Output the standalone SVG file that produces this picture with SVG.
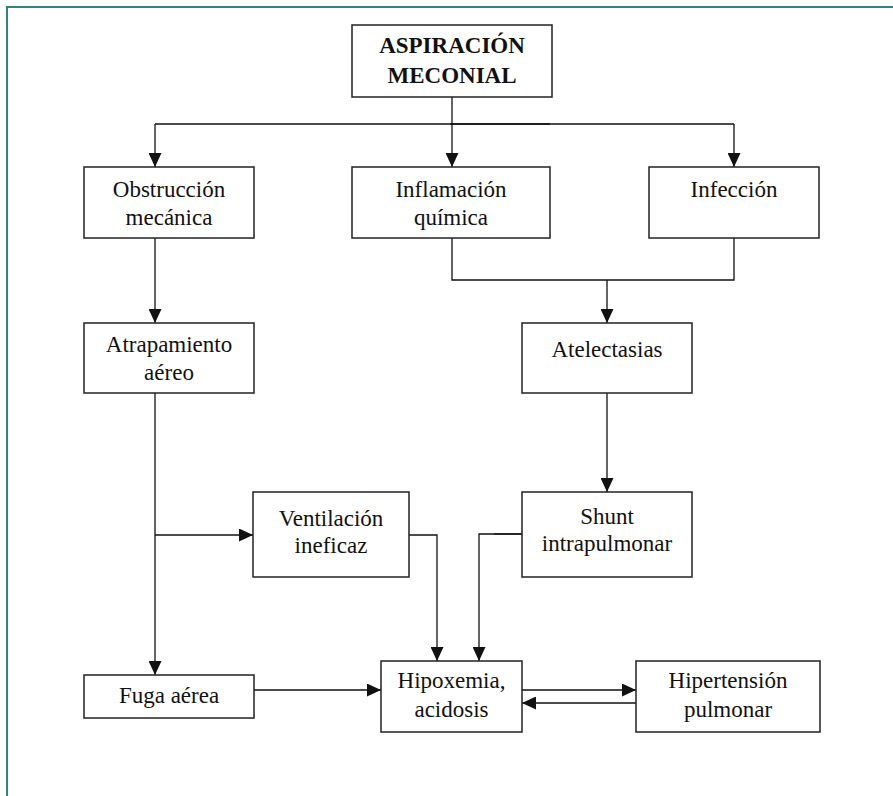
<svg xmlns="http://www.w3.org/2000/svg" width="893" height="796" viewBox="0 0 893 796">
<style>
.box{fill:#fff;stroke:#222;stroke-width:1.5}
.t{font-family:"Liberation Serif","Times New Roman",serif;font-size:23px;fill:#111;text-anchor:middle}
.b{font-weight:bold}
.c{fill:none;stroke:#111;stroke-width:1.3}
</style>
<defs>
<marker id="ah" markerUnits="userSpaceOnUse" markerWidth="14" markerHeight="13" refX="14" refY="6.5" orient="auto">
<path d="M0,0 L14,6.5 L0,13 z" fill="#111"/>
</marker>
</defs>
<rect width="893" height="796" fill="#fff"/>
<g id="frame" fill="none" stroke="#2a8585" stroke-width="2">
<path d="M7,796 V7 H893"/>
</g>
<g id="connectors">
<path class="c" d="M452,97 V124"/>
<path class="c" d="M155,124 H734"/>
<path class="c" d="M450,124 H550" stroke-width="2.2"/>
<path class="c" d="M155,124 V167" marker-end="url(#ah)"/>
<path class="c" d="M452,124 V167" marker-end="url(#ah)"/>
<path class="c" d="M734,124 V167" marker-end="url(#ah)"/>
<path class="c" d="M155,238 V323" marker-end="url(#ah)"/>
<path class="c" d="M452,238 V280 H734 V238"/>
<path class="c" d="M607,280 V323" marker-end="url(#ah)"/>
<path class="c" d="M155,393 V675" marker-end="url(#ah)"/>
<path class="c" d="M155,535 H253" marker-end="url(#ah)"/>
<path class="c" d="M607,393 V492" marker-end="url(#ah)"/>
<path class="c" d="M409,535 H437 V661" marker-end="url(#ah)"/>
<path class="c" d="M522,534 H479 V661" marker-end="url(#ah)"/>
<path class="c" d="M494,534 H522" stroke-width="2.2"/>
<path class="c" d="M254,690 H381" marker-end="url(#ah)"/>
<path class="c" d="M522,690 H636" marker-end="url(#ah)"/>
<path class="c" d="M636,703 H522" marker-end="url(#ah)"/>
</g>
<g id="aspiracion">
<rect class="box" x="352" y="25" width="200" height="72"/>
<text class="t b" x="452" y="53">ASPIRACIÓN</text>
<text class="t b" x="452" y="83">MECONIAL</text>
</g>
<g id="obstruccion">
<rect class="box" x="84" y="167" width="170" height="71"/>
<text class="t" x="169" y="197">Obstrucción</text>
<text class="t" x="169" y="225">mecánica</text>
</g>
<g id="inflamacion">
<rect class="box" x="352" y="167" width="198" height="71"/>
<text class="t" x="451" y="197">Inflamación</text>
<text class="t" x="451" y="225">química</text>
</g>
<g id="infeccion">
<rect class="box" x="649" y="167" width="170" height="71"/>
<text class="t" x="734" y="197">Infección</text>
</g>
<g id="atrapamiento">
<rect class="box" x="84" y="323" width="170" height="70"/>
<text class="t" x="169" y="352">Atrapamiento</text>
<text class="t" x="169" y="380">aéreo</text>
</g>
<g id="atelectasias">
<rect class="box" x="522" y="323" width="170" height="70"/>
<text class="t" x="607" y="357">Atelectasias</text>
</g>
<g id="ventilacion">
<rect class="box" x="253" y="492" width="156" height="85"/>
<text class="t" x="331" y="526">Ventilación</text>
<text class="t" x="331" y="553">ineficaz</text>
</g>
<g id="shunt">
<rect class="box" x="522" y="492" width="170" height="85"/>
<text class="t" x="607" y="524">Shunt</text>
<text class="t" x="607" y="551">intrapulmonar</text>
</g>
<g id="fuga">
<rect class="box" x="84" y="675" width="170" height="43"/>
<text class="t" x="169" y="703">Fuga aérea</text>
</g>
<g id="hipoxemia">
<rect class="box" x="381" y="661" width="141" height="71"/>
<text class="t" x="451.5" y="688">Hipoxemia,</text>
<text class="t" x="451.5" y="717">acidosis</text>
</g>
<g id="hipertension">
<rect class="box" x="636" y="661" width="184" height="71"/>
<text class="t" x="728" y="688">Hipertensión</text>
<text class="t" x="728" y="717">pulmonar</text>
</g>
</svg>
